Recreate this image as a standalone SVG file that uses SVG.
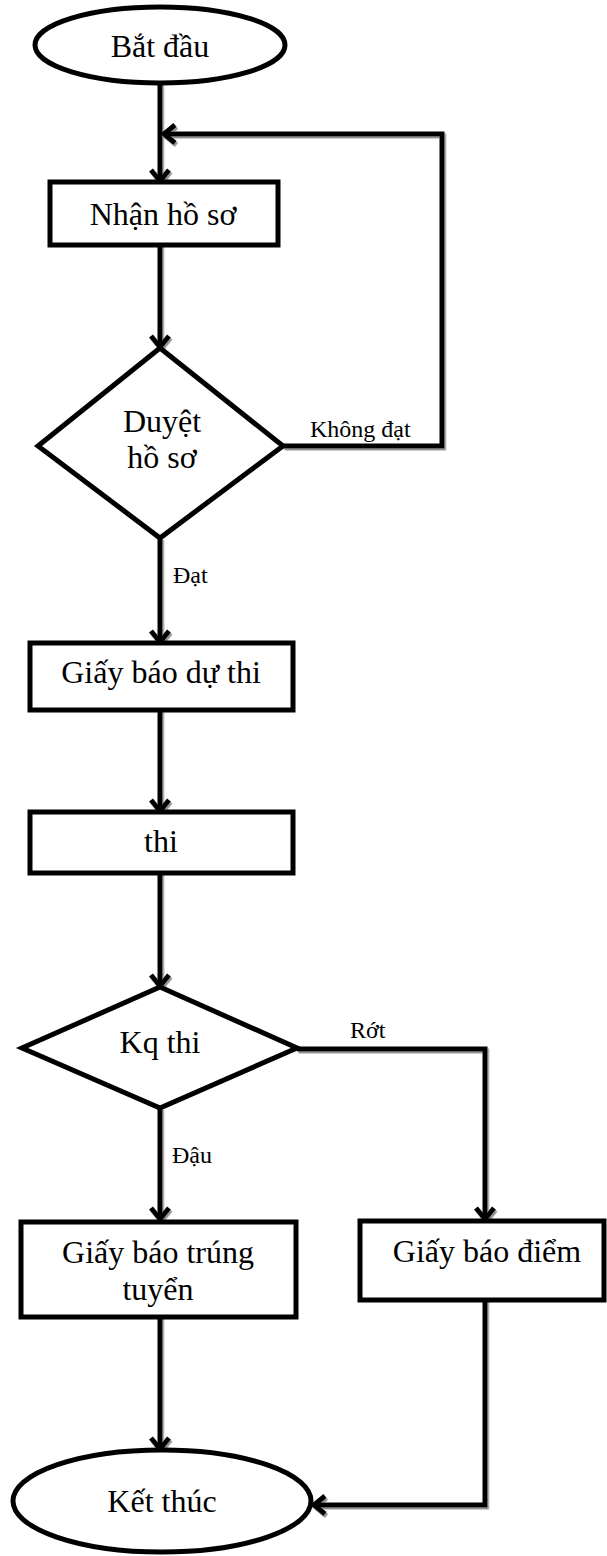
<svg xmlns="http://www.w3.org/2000/svg" width="607" height="1556" viewBox="0 0 607 1556">
<style>
.shape{fill:#fff;stroke:#000;stroke-width:5;stroke-linejoin:miter}
.t{font-family:"Liberation Serif","Times New Roman",serif;font-size:32px;fill:#000;text-anchor:middle}
.lbl{font-family:"Liberation Serif","Times New Roman",serif;font-size:24px;fill:#000}
.c{fill:none;stroke:#000;stroke-width:5;stroke-linejoin:miter;filter:url(#sh)}
.a{marker-end:url(#arr)}
</style>
<defs>
<filter id="sh" filterUnits="userSpaceOnUse" x="0" y="0" width="607" height="1556">
<feDropShadow dx="1.5" dy="2" stdDeviation="0.6" flood-color="#888" flood-opacity="0.9"/>
</filter>
<marker id="arr" markerUnits="userSpaceOnUse" orient="auto" refX="0" refY="0" markerWidth="30" markerHeight="30" viewBox="-15 -15 30 30" overflow="visible">
<path d="M-11,-9 L0,0 L-11,9" fill="none" stroke="#000" stroke-width="5" stroke-linejoin="miter"/>
</marker>
</defs>
<g id="connectors">
<path class="c a" d="M160,83 L160,181"/>
<path class="c a" d="M160,245 L160,347"/>
<path class="c a" d="M283,446 L442,446 L442,134 L164,134"/>
<path class="c a" d="M160,538 L160,642"/>
<path class="c a" d="M160,710 L160,811"/>
<path class="c a" d="M160,873 L160,986"/>
<path class="c a" d="M160,1108 L160,1219"/>
<path class="c a" d="M297,1049 L485,1049 L485,1219"/>
<path class="c a" d="M160,1317 L160,1449"/>
<path class="c a" d="M485,1300 L485,1505 L314,1505"/>
</g>
<g id="start">
<ellipse class="shape" cx="160" cy="45" rx="125" ry="38"/>
<text class="t" x="160" y="57">Bắt đầu</text>
</g>
<g id="nhan-ho-so">
<rect class="shape" x="50" y="182" width="228" height="63"/>
<text class="t" x="163" y="225">Nhận hồ sơ</text>
</g>
<g id="duyet-ho-so">
<polygon class="shape" points="160,348 283,446 160,538 38,446"/>
<text class="t" x="162" y="432">Duyệt</text>
<text class="t" x="162" y="468">hồ sơ</text>
</g>
<g id="label-khong-dat"><text class="lbl" x="310" y="437">Không đạt</text></g>
<g id="label-dat"><text class="lbl" x="173" y="583">Đạt</text></g>
<g id="giay-bao-du-thi">
<rect class="shape" x="30" y="643" width="263" height="67"/>
<text class="t" x="161" y="683">Giấy báo dự thi</text>
</g>
<g id="thi">
<rect class="shape" x="30" y="812" width="263" height="61"/>
<text class="t" x="161" y="852">thi</text>
</g>
<g id="kq-thi">
<polygon class="shape" points="160,987 297,1048 160,1108 22,1048"/>
<text class="t" x="160" y="1053">Kq thi</text>
</g>
<g id="label-rot"><text class="lbl" x="350" y="1038">Rớt</text></g>
<g id="label-dau"><text class="lbl" x="172" y="1163">Đậu</text></g>
<g id="giay-bao-trung-tuyen">
<rect class="shape" x="21" y="1222" width="275" height="95"/>
<text class="t" x="158" y="1263">Giấy báo trúng</text>
<text class="t" x="158" y="1300">tuyển</text>
</g>
<g id="giay-bao-diem">
<rect class="shape" x="360" y="1221" width="244" height="79"/>
<text class="t" x="487" y="1262">Giấy báo điểm</text>
</g>
<g id="end">
<ellipse class="shape" cx="162" cy="1501" rx="149" ry="51"/>
<text class="t" x="162" y="1512">Kết thúc</text>
</g>
</svg>
